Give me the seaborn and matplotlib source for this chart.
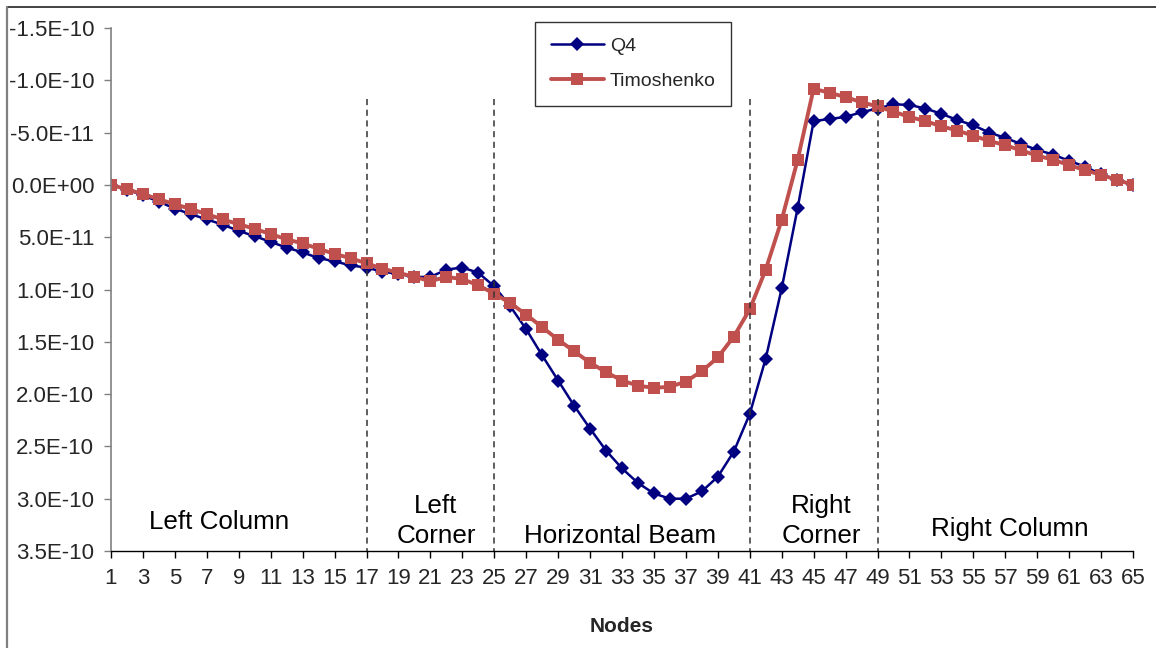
import numpy as np
import pandas as pd
import matplotlib
matplotlib.use("Agg")
import matplotlib.pyplot as plt
from matplotlib.lines import Line2D
from matplotlib.ticker import FixedLocator, FuncFormatter
import seaborn as sns

# Vertical displacement along the frame nodes (units: 1e-11)
nodes = list(range(1, 66))
q4 = [0.0, 0.45, 1.0, 1.6, 2.27, 2.8, 3.3, 3.8, 4.4, 4.9,
      5.45, 6.0, 6.45, 7.0, 7.3, 7.7, 7.9, 8.3, 8.5, 8.8,
      8.8, 8.1, 7.9, 8.4, 9.7, 11.6, 13.8, 16.3, 18.7, 21.1,
      23.3, 25.4, 27.1, 28.5, 29.5, 30.0, 30.0, 29.3, 27.9, 25.5,
      21.9, 16.6, 9.9, 2.2, -6.1, -6.3, -6.5, -6.95, -7.3, -7.7,
      -7.65, -7.3, -6.8, -6.2, -5.7, -5.0, -4.5, -3.9, -3.35, -2.9,
      -2.3, -1.75, -1.0, -0.5, 0.0]
timoshenko = [0.0, 0.41, 0.89, 1.37, 1.85, 2.3, 2.8, 3.3, 3.76, 4.2,
              4.7, 5.2, 5.6, 6.1, 6.6, 7.0, 7.5, 8.0, 8.4, 8.8,
              9.2, 8.8, 9.0, 9.6, 10.4, 11.3, 12.4, 13.6, 14.8, 15.9,
              17.0, 17.9, 18.7, 19.2, 19.4, 19.3, 18.8, 17.8, 16.5, 14.5,
              11.9, 8.1, 3.35, -2.4, -9.2, -8.8, -8.4, -7.9, -7.5, -7.0,
              -6.5, -6.1, -5.6, -5.2, -4.7, -4.2, -3.8, -3.3, -2.8, -2.4,
              -1.9, -1.4, -0.96, -0.48, 0.0]
scale = 1e-11

# Region boundaries and region names
boundaries = [17, 25, 41, 49]
regions = ["Left Column", "Left\nCorner", "Horizontal Beam", "Right\nCorner", "Right Column"]
region_x = [7.8, 21.35, 32.9, 45.5, 57.3]
region_y = [3.22e-10, 3.21e-10, 3.36e-10, 3.21e-10, 3.29e-10]

y_ticks = [k * 5e-11 for k in range(-3, 8)]
x_ticks = list(range(1, 66, 2))

df = pd.DataFrame({
    "Node": nodes,
    "Q4": np.array(q4) * scale,
    "Timoshenko": np.array(timoshenko) * scale,
})

sns.set_style("white")
plt.rcParams["font.family"] = ["Liberation Sans", "DejaVu Sans"]

W, H = 1156, 648
fig = plt.figure(figsize=(W / 100, H / 100), dpi=100)
ax = fig.add_axes([111 / W, 1 - 551 / H, (1133 - 111) / W, (551 - 28) / H])

sns.lineplot(data=df, x="Node", y="Q4", ax=ax, color="#000080", lw=1.8,
             marker="D", markersize=7, markeredgewidth=0, label="Q4")
sns.lineplot(data=df, x="Node", y="Timoshenko", ax=ax, color="#C0504D", lw=2.8,
             marker="s", markersize=8.7, markeredgewidth=0, label="Timoshenko")

# Dashed separators between frame regions
ax.vlines(boundaries, -8.2e-11, 3.5e-10, colors="#333333", linestyles=(0, (4, 3)), lw=1.1)

for txt, xx, yy in zip(regions, region_x, region_y):
    ax.text(xx, yy, txt, ha="center", va="center", fontsize=18.7, color="black",
            linespacing=1.3)

ax.set_xlim(1, 65)
ax.set_ylim(3.5e-10, -1.5e-10)
ax.yaxis.set_major_locator(FixedLocator(y_ticks))
ax.yaxis.set_major_formatter(FuncFormatter(lambda v, p: f"{v:.1E}"))
ax.xaxis.set_major_locator(FixedLocator(x_ticks))
ax.set_xlabel("")
ax.set_ylabel("")

for s in ["top", "right"]:
    ax.spines[s].set_visible(False)
ax.spines["left"].set_color("#808080")
ax.spines["left"].set_linewidth(1.2)
ax.spines["bottom"].set_color("black")
ax.spines["bottom"].set_linewidth(1.0)

ax.tick_params(axis="y", direction="out", length=5, width=1, color="#808080",
               labelsize=16, pad=7, left=True)
ax.tick_params(axis="x", direction="out", length=5, width=1, color="black",
               labelsize=16, pad=7, bottom=True)

fig.text(622 / W, 1 - 627 / H, "Nodes", ha="center", va="center",
         fontsize=15, fontweight="bold")

leg = ax.legend(loc="upper left", bbox_to_anchor=(535 / W, 1 - 22 / H),
                bbox_transform=fig.transFigure, frameon=True, fancybox=False,
                edgecolor="black", fontsize=14, handlelength=2.75,
                labelspacing=0.9, borderpad=0.8, handletextpad=0.3,
                borderaxespad=0)
leg.get_frame().set_linewidth(1.0)

# Outer chart frame
fig.add_artist(Line2D([7 / W, 1], [1 - 7 / H, 1 - 7 / H], transform=fig.transFigure,
                      color="#222222", lw=1.2))
fig.add_artist(Line2D([7 / W, 7 / W], [0, 1 - 7 / H], transform=fig.transFigure,
                      color="#808080", lw=1.6))

fig.savefig("out.png", dpi=100)
